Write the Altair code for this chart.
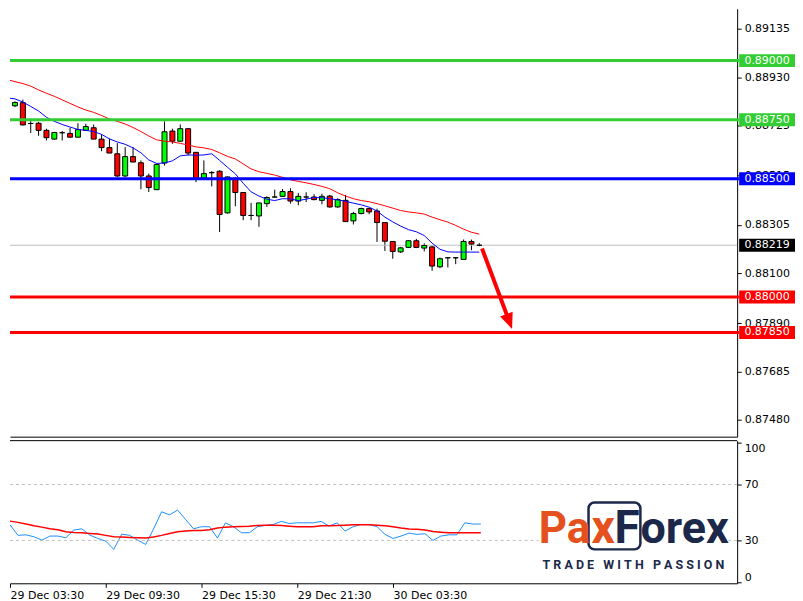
import json
import altair as alt
import pandas as pd

# ---------------- data ----------------
candle_index = list(range(61))  # 30-minute candles, index 0 = 29 Dec 03:00
open_prices = [0.88806, 0.88809, 0.88822, 0.88734, 0.88735, 0.88705, 0.88668, 0.88695, 0.88692, 0.88676,
               0.88705, 0.88716, 0.88668, 0.88632, 0.88606, 0.88512, 0.88594, 0.88568, 0.88512, 0.88454,
               0.88567, 0.88702, 0.88659, 0.88712, 0.88612, 0.88503, 0.88526, 0.88532, 0.88356, 0.88501,
               0.88442, 0.88345, 0.88343, 0.88395, 0.88423, 0.88426, 0.88446, 0.88406, 0.88423, 0.88423,
               0.88409, 0.88427, 0.88381, 0.88409, 0.88322, 0.88353, 0.88374, 0.88364, 0.88315, 0.88235,
               0.88191, 0.88210, 0.88238, 0.88207, 0.88212, 0.88128, 0.88166, 0.88166, 0.88159, 0.88235,
               0.88219]
high_prices = [0.88810, 0.88828, 0.88835, 0.88750, 0.88741, 0.88712, 0.88699, 0.88702, 0.88716, 0.88735,
               0.88733, 0.88730, 0.88688, 0.88670, 0.88651, 0.88634, 0.88634, 0.88578, 0.88522, 0.88564,
               0.88743, 0.88712, 0.88730, 0.88713, 0.88612, 0.88578, 0.88533, 0.88536, 0.88510, 0.88508,
               0.88442, 0.88398, 0.88398, 0.88426, 0.88454, 0.88457, 0.88460, 0.88440, 0.88443, 0.88435,
               0.88437, 0.88432, 0.88418, 0.88432, 0.88360, 0.88378, 0.88377, 0.88374, 0.88315, 0.88235,
               0.88212, 0.88240, 0.88246, 0.88227, 0.88218, 0.88167, 0.88167, 0.88167, 0.88243, 0.88243,
               0.88228]
low_prices = [0.88781, 0.88803, 0.88726, 0.88694, 0.88682, 0.88662, 0.88665, 0.88662, 0.88676, 0.88676,
              0.88702, 0.88668, 0.88617, 0.88609, 0.88508, 0.88508, 0.88571, 0.88456, 0.88444, 0.88454,
              0.88556, 0.88648, 0.88659, 0.88599, 0.88486, 0.88503, 0.88468, 0.88275, 0.88353, 0.88384,
              0.88325, 0.88325, 0.88297, 0.88381, 0.88421, 0.88423, 0.88395, 0.88388, 0.88402, 0.88409,
              0.88392, 0.88378, 0.88378, 0.88319, 0.88307, 0.88350, 0.88350, 0.88233, 0.88195, 0.88162,
              0.88187, 0.88207, 0.88207, 0.88193, 0.88111, 0.88122, 0.88125, 0.88139, 0.88159, 0.88198,
              0.88215]
close_prices = [0.88806, 0.88823, 0.88728, 0.88734, 0.88705, 0.88674, 0.88696, 0.88695, 0.88676, 0.88708,
                0.88721, 0.88668, 0.88632, 0.88609, 0.88512, 0.88594, 0.88571, 0.88512, 0.88463, 0.88561,
                0.88699, 0.88659, 0.88712, 0.88609, 0.88501, 0.88522, 0.88526, 0.88349, 0.88508, 0.88442,
                0.88345, 0.88345, 0.88398, 0.88421, 0.88423, 0.88446, 0.88406, 0.88426, 0.88423, 0.88412,
                0.88426, 0.88381, 0.88412, 0.88319, 0.88353, 0.88374, 0.88360, 0.88315, 0.88236, 0.88193,
                0.88208, 0.88238, 0.88210, 0.88218, 0.88131, 0.88162, 0.88166, 0.88166, 0.88235, 0.88224,
                0.88219]
ma_fast = [0.88843, 0.88838, 0.88825, 0.88806, 0.88787, 0.88760, 0.88743, 0.88730, 0.88719, 0.88709,
           0.88705, 0.88700, 0.88688, 0.88669, 0.88656, 0.88646, 0.88631, 0.88610, 0.88580, 0.88565,
           0.88567, 0.88576, 0.88597, 0.88601, 0.88600, 0.88601, 0.88606, 0.88578, 0.88549, 0.88521,
           0.88481, 0.88445, 0.88427, 0.88414, 0.88408, 0.88416, 0.88415, 0.88408, 0.88414, 0.88421,
           0.88420, 0.88416, 0.88411, 0.88405, 0.88397, 0.88390, 0.88380, 0.88364, 0.88338, 0.88318,
           0.88300, 0.88285, 0.88276, 0.88260, 0.88228, 0.88202, 0.88191, 0.88190, 0.88190, 0.88190,
           0.88190]
ma_slow = [0.88920, 0.88911, 0.88903, 0.88892, 0.88876, 0.88862, 0.88849, 0.88834, 0.88819, 0.88804,
           0.88791, 0.88781, 0.88768, 0.88753, 0.88743, 0.88732, 0.88717, 0.88700, 0.88681, 0.88665,
           0.88659, 0.88656, 0.88650, 0.88643, 0.88635, 0.88631, 0.88624, 0.88610, 0.88595, 0.88584,
           0.88563, 0.88542, 0.88530, 0.88523, 0.88516, 0.88506, 0.88496, 0.88489, 0.88483, 0.88476,
           0.88468, 0.88458, 0.88441, 0.88427, 0.88416, 0.88408, 0.88403, 0.88395, 0.88386, 0.88376,
           0.88366, 0.88360, 0.88356, 0.88351, 0.88338, 0.88327, 0.88317, 0.88303, 0.88287, 0.88274,
           0.88266]
rsi_values = [39.8, 41.2, 33.6, 34.0, 32.6, 30.2, 33.1, 33.1, 31.9, 37.4,
              38.3, 33.8, 31.4, 29.5, 23.6, 34.5, 33.6, 30.2, 27.1, 38.3,
              50.5, 48.3, 51.7, 45.0, 38.3, 39.8, 39.8, 31.7, 42.6, 39.8,
              35.5, 35.5, 39.8, 40.7, 41.4, 43.6, 42.1, 42.6, 42.6, 42.6,
              43.6, 40.2, 42.6, 36.7, 39.8, 41.4, 41.4, 39.8, 34.3, 31.4,
              33.1, 35.2, 34.3, 34.8, 30.0, 33.1, 34.0, 34.0, 42.6, 41.7,
              41.7]
rsi_signal = [44.3, 43.8, 42.9, 41.7, 40.5, 39.5, 38.3, 37.6, 36.2, 35.7,
              35.5, 35.0, 34.5, 33.6, 32.6, 32.4, 32.1, 31.9, 31.7, 32.4,
              33.6, 35.0, 36.2, 36.7, 37.1, 37.1, 37.6, 38.8, 39.5, 39.8,
              40.0, 40.2, 40.7, 40.9, 40.9, 40.7, 40.2, 39.8, 39.8, 39.8,
              40.5, 40.5, 40.7, 40.9, 41.2, 41.2, 41.2, 40.9, 40.5, 39.8,
              38.8, 38.1, 37.9, 37.4, 36.4, 35.9, 35.5, 35.5, 35.5, 35.5,
              35.5]

level_prices = [0.89000, 0.88750, 0.88500, 0.88000, 0.87850]
level_colors = ["#32cd32", "#32cd32", "#0000ff", "#ff0000", "#ff0000"]
current_price = 0.88219
price_ticks = [0.89135, 0.88930, 0.88725, 0.88515, 0.88305, 0.88100, 0.87890, 0.87685, 0.87480]
time_tick_index = [1, 13, 25, 37, 49]
time_tick_labels = ["29 Dec 03:30", "29 Dec 09:30", "29 Dec 15:30", "29 Dec 21:30", "30 Dec 03:30"]
rsi_ticks = [0, 30, 70, 100]
rsi_levels = [30, 70]
arrow_x = [60.34, 63.72]
arrow_y = [0.882055, 0.879044]
arrow_tip_x = [64.16]
arrow_tip_y = [0.87865]

# ---------------- layout ----------------
W = 729
H_MAIN = 429
H_RSI = 143
FONT = "DejaVu Sans"
FS = 11
ORANGE = "#e5511e"
NAVY = "#1b2849"
NB = "\u00a0"

direction = ["up" if c > o else ("down" if c < o else "flat") for o, c in zip(open_prices, close_prices)]
candles = pd.DataFrame({"idx": candle_index, "open": open_prices, "high": high_prices,
                        "low": low_prices, "close": close_prices, "dir": direction,
                        "ma_fast": ma_fast, "ma_slow": ma_slow,
                        "rsi": rsi_values, "sig": rsi_signal})

x_scale = alt.Scale(domain=[1, 92.125], nice=False, zero=False)
y_scale = alt.Scale(domain=[0.874093, 0.892194], nice=False, zero=False)
rsi_scale = alt.Scale(domain=[-0.7, 101.4], nice=False, zero=False)

main_x_axis = alt.Axis(title=None, labels=False, ticks=False, grid=False,
                       domain=True, domainColor="black", domainWidth=1)
main_y_axis = alt.Axis(orient="right", values=price_ticks, format=".5f", title=None, grid=False,
                       domainColor="black", tickColor="black", tickSize=4, labelPadding=3,
                       labelFont=FONT, labelFontSize=FS, labelColor="black")


def MX(field):
    return alt.X(field, scale=x_scale, axis=main_x_axis)


def MY(field):
    return alt.Y(field, scale=y_scale, axis=main_y_axis)


wicks = alt.Chart(candles).mark_rule(color="black", strokeWidth=1, clip=True).encode(
    x=MX("idx:Q"), y=MY("low:Q"), y2="high:Q")

cur_df = pd.DataFrame({"price": [current_price]})
current_line = alt.Chart(cur_df).mark_rule(color="#c0c0c0", strokeWidth=1).encode(
    y=MY("price:Q"), x=alt.value(0), x2=alt.value(W))

bodies = alt.Chart(candles).mark_bar(size=5, stroke="black", strokeWidth=1, clip=True).encode(
    x=MX("idx:Q"), y=MY("open:Q"), y2="close:Q",
    color=alt.Color("dir:N", scale=alt.Scale(domain=["up", "down", "flat"],
                                             range=["#00ff00", "#ff0000", "#000000"]), legend=None))

fast_line = alt.Chart(candles).mark_line(color="#0000ff", strokeWidth=1, clip=True).encode(
    x=MX("idx:Q"), y=MY("ma_fast:Q"))
slow_line = alt.Chart(candles).mark_line(color="#ff0000", strokeWidth=1, clip=True).encode(
    x=MX("idx:Q"), y=MY("ma_slow:Q"))

levels_df = pd.DataFrame({"price": level_prices, "color": level_colors})
level_lines = alt.Chart(levels_df).mark_rule(strokeWidth=3).encode(
    y=MY("price:Q"), x=alt.value(0), x2=alt.value(731),
    color=alt.Color("color:N", scale=None))

boxes_df = pd.DataFrame({"price": level_prices + [current_price],
                         "color": level_colors + ["#000000"]})
BOX_PATH = "M-1,-0.232L1,-0.232L1,0.232L-1,0.232Z"
boxes = alt.Chart(boxes_df).mark_point(shape=BOX_PATH, size=3136, filled=True, opacity=1,
                                       strokeWidth=0).encode(
    x=alt.value(759), y=MY("price:Q"), color=alt.Color("color:N", scale=None))
box_text = alt.Chart(boxes_df).mark_text(color="white", font=FONT, fontSize=FS, align="center",
                                         baseline="middle").encode(
    x=alt.value(759), y=MY("price:Q"), text=alt.Text("price:Q", format=".5f"))

arrow_df = pd.DataFrame({"x0": [arrow_x[0]], "x1": [arrow_x[1]], "y0": [arrow_y[0]], "y1": [arrow_y[1]]})
arrow_shaft = alt.Chart(arrow_df).mark_rule(color="#ff0000", strokeWidth=4).encode(
    x=MX("x0:Q"), x2="x1:Q", y=MY("y0:Q"), y2="y1:Q")
tip_df = pd.DataFrame({"x": arrow_tip_x, "y": arrow_tip_y})
HEAD_PATH = "M0,0L-0.42,-1L0.42,-1Z"
arrow_head = alt.Chart(tip_df).mark_point(shape=HEAD_PATH, size=1024, filled=True, opacity=1,
                                          color="#ff0000", strokeWidth=0, angle=339.2).encode(
    x=MX("x:Q"), y=MY("y:Q"))

main = alt.layer(wicks, current_line, bodies, fast_line, slow_line, level_lines,
                 boxes, box_text, arrow_shaft, arrow_head).properties(width=W, height=H_MAIN)

# ---------------- RSI panel ----------------
label_expr = "{}[indexof({}, datum.value)]".format(json.dumps(time_tick_labels), json.dumps(time_tick_index))
rsi_x_axis = alt.Axis(title=None, values=time_tick_index, labelExpr=label_expr, grid=False,
                      domainColor="black", tickColor="black", tickSize=4, labelPadding=2,
                      labelAlign="left", labelBaseline="top", labelFont=FONT, labelFontSize=FS,
                      labelColor="black", labelOverlap=False, labelFlush=False)
rsi_y_axis = alt.Axis(orient="right", values=rsi_ticks, title=None, grid=False, domainColor="black",
                      tickColor="black", tickSize=4, labelPadding=3, labelFont=FONT, labelFontSize=FS,
                      labelColor="black", labelFlush=5)


def RX(field):
    return alt.X(field, scale=x_scale, axis=rsi_x_axis)


def RY(field):
    return alt.Y(field, scale=rsi_scale, axis=rsi_y_axis)


rsi_line = alt.Chart(candles).mark_line(color="#1e90ff", strokeWidth=1, clip=True).encode(
    x=RX("idx:Q"), y=RY("rsi:Q"))
sig_line = alt.Chart(candles).mark_line(color="#ff0000", strokeWidth=1.5, clip=True).encode(
    x=RX("idx:Q"), y=RY("sig:Q"))

dash_df = pd.DataFrame({"lvl": rsi_levels})
rsi_dashes = alt.Chart(dash_df).mark_rule(color="#c0c0c0", strokeDash=[3, 3], strokeWidth=1).encode(
    y=RY("lvl:Q"), x=alt.value(0), x2=alt.value(W))

one = pd.DataFrame({"a": [0]})
top_border = alt.Chart(one).mark_rule(color="black", strokeWidth=1).encode(
    y=alt.value(0), x=alt.value(0), x2=alt.value(W))

logo_bg = alt.Chart(one).mark_rect(color="white").encode(
    x=alt.value(530), x2=alt.value(720), y=alt.value(58), y2=alt.value(135))
logo_box = alt.Chart(one).mark_rect(fill="white", stroke=NAVY, strokeWidth=2.5, cornerRadius=6).encode(
    x=alt.value(580), x2=alt.value(632), y=alt.value(62), y2=alt.value(109))


def logo_text(txt, x, y, color, size, align="left", weight="bold"):
    return alt.Chart(one).mark_text(text=txt, color=color, font="Roboto", fontSize=size,
                                    fontWeight=weight, align=align, baseline="alphabetic").encode(
        x=alt.value(x), y=alt.value(y))


logo_pa = logo_text("Pa", 530, 103, ORANGE, 44)
logo_x = logo_text("x", 583, 103, ORANGE, 46)
logo_F = logo_text("F", 606, 103, NAVY, 46)
logo_orex = logo_text("orex", 632, 103, NAVY, 45)
tag_words = ["TRADE", "WITH", "PASSION"]
tag_text = (NB * 3).join(NB.join(w) for w in tag_words)
tagline = logo_text(tag_text, 625, 129, NAVY, 12.5, align="center")

rsi = alt.layer(rsi_line, sig_line, rsi_dashes, top_border, logo_bg, logo_box,
                logo_pa, logo_x, logo_F, logo_orex, tagline).properties(width=W, height=H_RSI)

chart = alt.vconcat(main, rsi, spacing=3).properties(
    padding={"left": 0, "top": 0, "right": 0, "bottom": 0}, background="white"
).configure_view(stroke=None)

chart.save("out.html", embed_options={"renderer": "svg", "actions": False})
